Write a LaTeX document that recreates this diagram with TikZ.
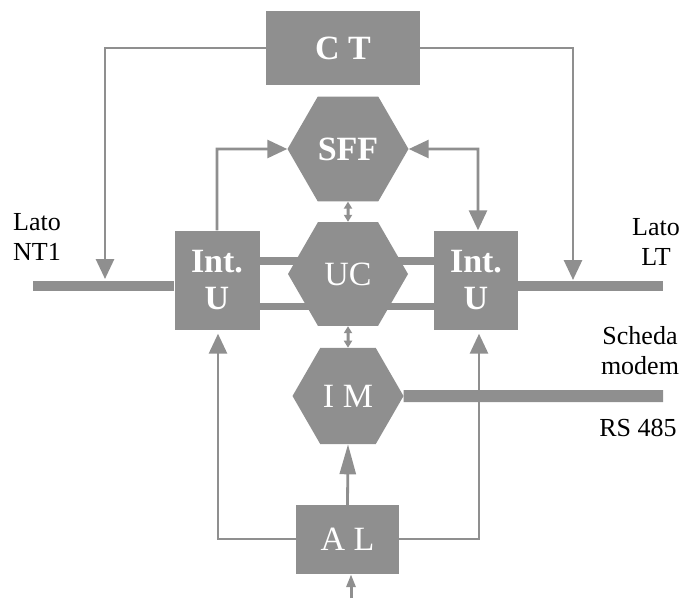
\documentclass[tikz,border=0pt]{standalone}
\usepackage{fontspec}
\setmainfont{LiberationSerif}[Extension=.ttf,UprightFont=*-Regular,BoldFont=*-Bold,ItalicFont=*-Italic,BoldItalicFont=*-BoldItalic]
\usetikzlibrary{shapes.geometric,arrows.meta,backgrounds}
\definecolor{blk}{RGB}{143,143,143}
\tikzset{
  box/.style={draw=none,fill=blk,rectangle,inner sep=0pt,text=white,font=\rmfamily\fontsize{34}{37}\selectfont\bfseries,align=center},
  hexa/.style={draw=none,fill=blk,regular polygon,regular polygon sides=6,inner sep=0pt,text=white,font=\rmfamily\fontsize{34}{37}\selectfont},
  lbl/.style={inner sep=0pt,font=\rmfamily\fontsize{26}{30}\selectfont,text=black},
  thin/.style={draw=blk,line width=2.8pt},
  bar/.style={draw=blk,line width=10pt},
  arr/.style={thin,-{Triangle[width=18pt,length=20pt]}},
  darr/.style={thin,{Triangle[width=18pt,length=20pt]}-{Triangle[width=18pt,length=20pt]}},
  smallarr/.style={draw=blk,line width=3pt,{Triangle[width=8pt,length=7pt]}-{Triangle[width=8pt,length=7pt]}}
}
\begin{document}
\begin{tikzpicture}[x=1pt,y=-1pt]
\useasboundingbox (0,0) rectangle (682,598);
% nodes
\node[box,minimum width=154pt,minimum height=74pt] (ct) at (343,48) {C T};
\node[hexa,minimum size=121pt,font=\rmfamily\fontsize{34}{37}\selectfont\bfseries] (sff) at (348,149) {SFF};
\node[hexa,minimum size=120pt] (uc) at (348,274) {UC};
\node[hexa,minimum size=111pt] (im) at (348,396) {I M};
\node[box,minimum width=85pt,minimum height=99pt] (iul) at (217,280) {Int.\\U};
\node[box,minimum width=84pt,minimum height=99pt] (iur) at (476,280) {Int.\\U};
\node[box,minimum width=103pt,minimum height=69pt,font=\rmfamily\fontsize{34}{37}\selectfont] (al) at (347.5,539.5) {A L};
% coordinates
\coordinate (ntl) at (33,286);
\coordinate (ltr) at (663,286);
\coordinate (rsr) at (663,396);
\coordinate (cl) at (105,48);
\coordinate (cr) at (573,48);
\coordinate (cld) at (105,279);
\coordinate (crd) at (573,280);
\coordinate (sl) at (217,149);
\coordinate (sr) at (478,149);
\coordinate (all) at (218,539);
\coordinate (alr) at (479,539);
\coordinate (bot) at (351,598);
\coordinate (b1) at (260,261);
\coordinate (b2) at (434,261);
\coordinate (b3) at (260,306.5);
\coordinate (b4) at (434,306.5);
% bars
\begin{scope}[on background layer]
\draw[bar] (ntl) -- (ntl -| iul.west);
\draw[bar] (ltr -| iur.east) -- (ltr);
\draw[bar,line width=8pt] (b1) -- (b2);
\draw[bar,line width=7.5pt] (b3) -- (b4);
\draw[bar,line width=12pt] (im.east) -- (rsr);
\end{scope}
% thin connectors
\draw[arr] (ct.west |- cl) -- (cl) -- (cld);
\draw[arr] (ct.east |- cr) -- (cr) -- (crd);
\draw[arr] (iul.north) -- (sl) -- (sff.west);
\draw[darr] (sff.east) -- (sr) -- (sr |- iur.north);
\draw[smallarr] (sff.south) -- (uc.north);
\draw[smallarr] (uc.south) -- (im.north);
\draw[arr,shorten >=4pt] (al.west |- all) -- (all) -- (all |- iul.south);
\draw[arr,shorten >=4pt] (al.east |- alr) -- (alr) -- (alr |- iur.south);
\draw[thin,-{Triangle[width=16pt,length=30pt]}] (al.north) -- (im.south);
\draw[draw=blk,line width=3pt,-{Triangle[width=9pt,length=13pt]}] (bot) -- (bot |- al.south);
% labels
\node[lbl,align=left,anchor=west] (nt1) at (13,237) {Lato\\NT1};
\node[lbl,align=center] (lt) at (656,242) {Lato\\LT};
\node[lbl,align=center] (sm) at (640,351) {Scheda\\modem};
\node[lbl] (rs) at (638,428) {RS 485};
\end{tikzpicture}
\end{document}
